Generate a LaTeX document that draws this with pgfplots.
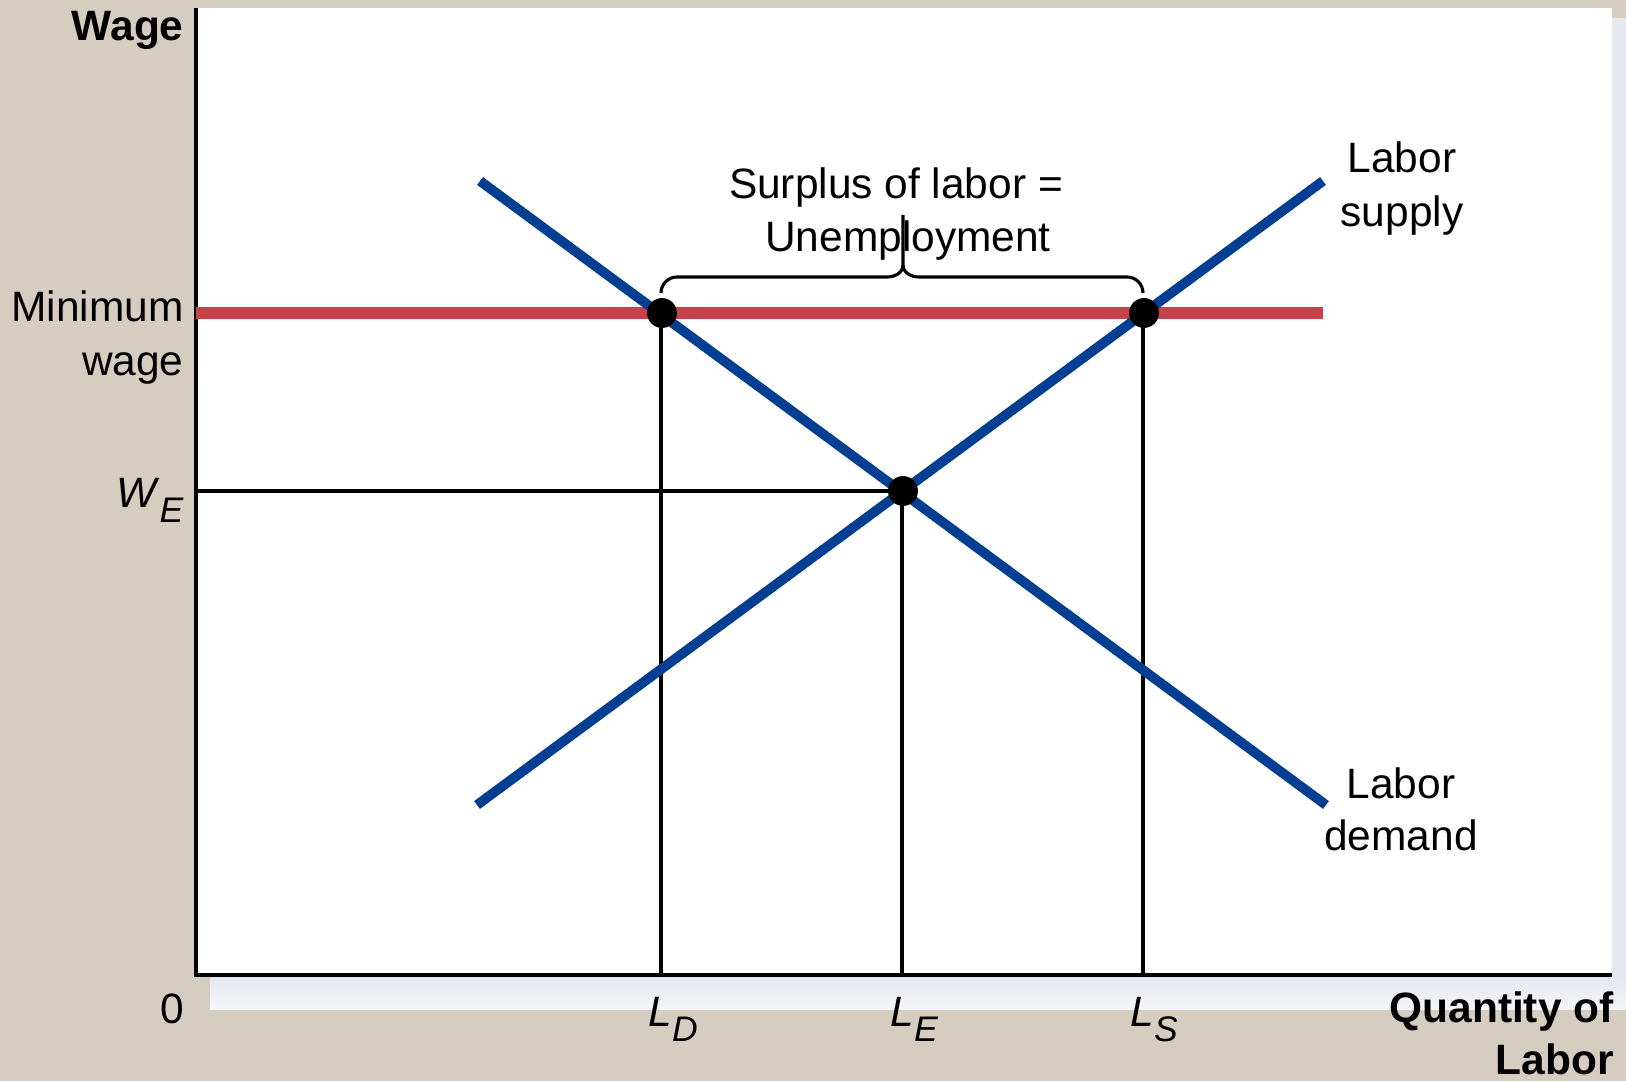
\documentclass[border=0pt]{standalone}
\usepackage{pgfplots}
\pgfplotsset{compat=1.18}
\usepackage{fontspec}
\setmainfont{Liberation Sans}

\definecolor{beige}{RGB}{214,205,193}
\definecolor{shadow}{RGB}{228,231,239}
\definecolor{curveblue}{RGB}{2,62,145}
\definecolor{minred}{RGB}{200,66,75}

\newcommand\f{\fontsize{19.1}{24.3}\selectfont}
\newcommand\sub[2]{\textit{#1}\raisebox{-6.5pt}{\fontsize{16}{16}\selectfont\textit{#2}}}

\begin{document}
\begin{tikzpicture}
    % page background and panel, 1 px = 0.45pt
    \begin{scope}[x=0.45pt, y=0.45pt]
        \fill[beige] (0,0) rectangle (1626,1081);
        \fill[shadow] (1612,106) rectangle (1626,1063);
        \shade[top color=shadow, bottom color=shadow!40] (210,71) rectangle (1626,106);
        \fill[white] (196,106) rectangle (1612,1073);
    \end{scope}

    \begin{axis}[
        at = {(88.2pt,47.7pt)},
        anchor = south west,
        x = 0.45pt, y = 0.45pt,
        xmin = 0, xmax = 1416,
        ymin = 0, ymax = 967,
        axis lines = none,
        clip = false
    ]

    % axes
    \draw[line width=1.8pt] (0,967) -- (0,0) -- (1416,0);

    % minimum wage
    \addplot[no marks, minred, line width=5.4pt] coordinates {(0,662) (1127,662)};

    % guide lines
    \addplot[no marks, black, line width=1.4pt] coordinates {(0,484) (706,484)};
    \addplot[no marks, black, line width=1.4pt] coordinates {(465,0) (465,662)};
    \addplot[no marks, black, line width=1.4pt] coordinates {(706,0) (706,484)};
    \addplot[no marks, black, line width=1.4pt] coordinates {(947,0) (947,662)};

    % demand and supply
    \addplot[no marks, curveblue, line width=4.4pt] coordinates {(284,794) (1130,170)};
    \addplot[no marks, curveblue, line width=4.4pt] coordinates {(281,170) (1127,794)};

    \addplot[only marks, mark=*, mark size=6.5pt, black]
        coordinates {(466,662) (948,662) (707,484)};

    % brace
    \draw[line width=1.4pt] (465,682) to[out=90,in=180] (481,698) -- (691,698)
        to[out=0,in=-90] (707,710) -- (707,760);
    \draw[line width=1.4pt] (947,682) to[out=90,in=0] (931,698) -- (723,698)
        to[out=180,in=-90] (707,710);

    \node[anchor=base, font=\f] at (700,776) {Surplus of labor =};
    \node[anchor=base, font=\f] at (712,723) {Unemployment};

    \node[anchor=base, font=\f] at (1206,802) {Labor};
    \node[anchor=base, font=\f] at (1206,748) {supply};
    \node[anchor=base, font=\f] at (1205,176) {Labor};
    \node[anchor=base, font=\f] at (1205,124) {demand};

    % axis labels
    \node[anchor=base east, font=\f\bfseries, inner sep=0pt] at (-12,934) {Wage};
    \node[anchor=base east, font=\f, inner sep=0pt] at (-12,653) {Minimum};
    \node[anchor=base east, font=\f, inner sep=0pt] at (-12,599) {wage};
    \node[anchor=base east, font=\f, inner sep=0pt] at (-12,467) {\sub{W}{E}};
    \node[anchor=base, font=\f, inner sep=0pt] at (-24,-49) {0};

    \node[anchor=base west, font=\f, inner sep=0pt] at (452,-52) {\sub{L}{D}};
    \node[anchor=base west, font=\f, inner sep=0pt] at (694,-52) {\sub{L}{E}};
    \node[anchor=base west, font=\f, inner sep=0pt] at (934,-52) {\sub{L}{S}};

    \node[anchor=base east, font=\f\bfseries, inner sep=0pt] at (1418,-48) {Quantity of};
    \node[anchor=base east, font=\f\bfseries, inner sep=0pt] at (1418,-100) {Labor};
    \end{axis}

    \pgfresetboundingbox
    \path (0,0) rectangle (731.7pt,486.45pt);
\end{tikzpicture}
\end{document}
